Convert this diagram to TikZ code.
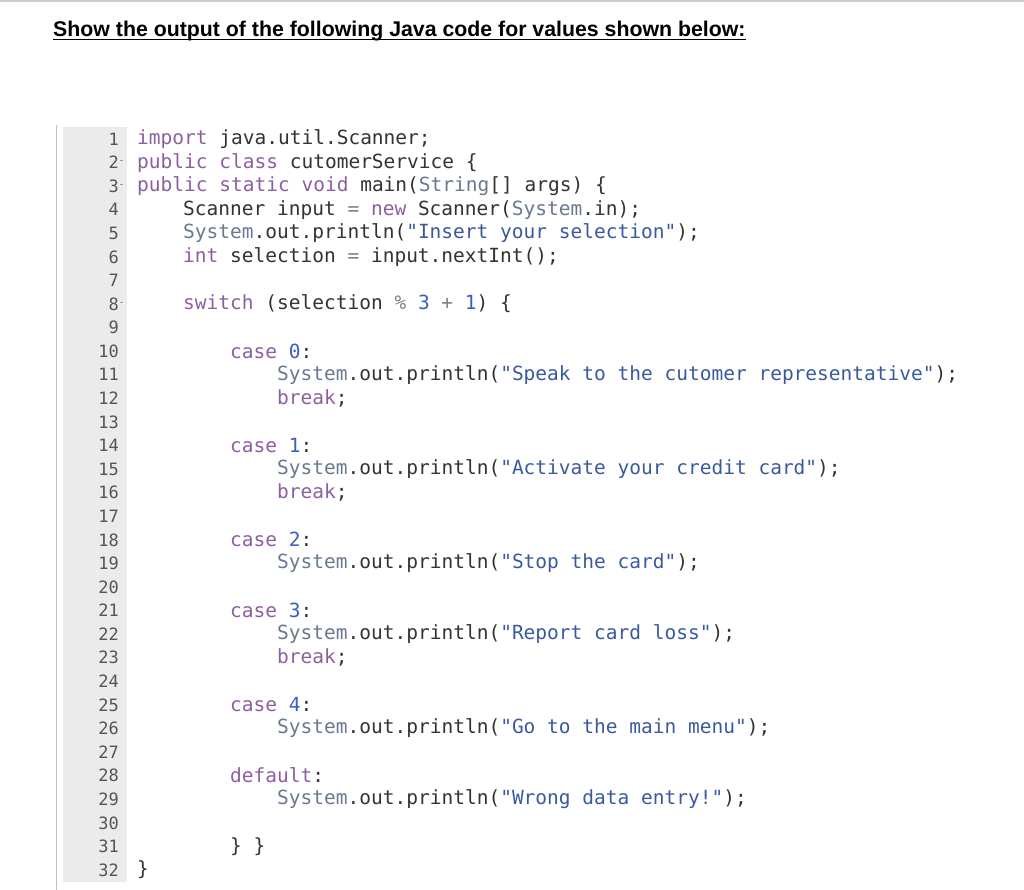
\documentclass[tikz,border=0pt]{standalone}
\usepackage{fontspec}
\setmainfont{Liberation Sans}
\newfontfamily\codefont{DejaVu Sans Mono}
\definecolor{kw}{HTML}{8E5FA0}
\definecolor{sys}{HTML}{6A7890}
\definecolor{str}{HTML}{3A5A9E}
\definecolor{num}{HTML}{3C5CC8}
\definecolor{txt}{HTML}{333333}
\definecolor{gut}{HTML}{EBEBEB}
\definecolor{lnum}{HTML}{555555}
\newcommand{\K}[1]{\textcolor{kw}{#1}}
\newcommand{\Sy}[1]{\textcolor{sys}{#1}}
\newcommand{\St}[1]{\textcolor{str}{#1}}
\newcommand{\N}[1]{\textcolor{num}{#1}}
\begin{document}
\begin{tikzpicture}[x=1pt,y=-1pt,
  code/.style={anchor=west,inner sep=0pt,font=\codefont\fontsize{19.5}{21}\selectfont,text=txt},
  lno/.style={anchor=east,inner sep=0pt,font=\codefont\fontsize{17}{18}\selectfont,text=lnum}]
\useasboundingbox (0,0) rectangle (1024,890);
\fill[white] (0,0) rectangle (1024,890);
\fill[gray!40] (0,0) rectangle (1024,2);
\fill[gut] (63,127) rectangle (127,882);
\draw[gray!50,line width=0.8pt] (56,125) -- (56,890);
\node[anchor=base west,inner sep=0pt,font=\bfseries\fontsize{21.3}{24}\selectfont] (title) at (53,37) {Show the output of the following Java code for values shown below:};
\draw[line width=1.3pt] ([yshift=-2.8pt]title.base west) -- ([yshift=-2.8pt]title.base east);
\foreach \i in {1,...,32}{
  \node[lno] (n\i) at (119,{139+(\i-1)*23.58}) {\i};
}
\foreach \i in {2,3,8}{
  \node[anchor=west,inner sep=0pt,font=\fontsize{9}{9}\selectfont,text=lnum] at (120,{139+(\i-1)*23.58}) {-};
}
\def\L#1{139+(#1-1)*23.58}
\node[code] (c1) at (137,{\L{1}}) {\K{import} java.util.Scanner;};
\node[code] (c2) at (137,{\L{2}}) {\K{public class} cutomerService \{};
\node[code] (c3) at (137,{\L{3}}) {\K{public static void} main(\Sy{String}[] args) \{};
\node[code] (c4) at (183,{\L{4}}) {Scanner input \textcolor{gray}{=} \K{new} Scanner(\Sy{System}.in);};
\node[code] (c5) at (183,{\L{5}}) {\Sy{System}.out.println(\St{"Insert your selection"});};
\node[code] (c6) at (183,{\L{6}}) {\K{int} selection \textcolor{gray}{=} input.nextInt();};
\node[code] (c8) at (183,{\L{8}}) {\K{switch} (selection \textcolor{gray}{\%} \N{3} \textcolor{gray}{+} \N{1}) \{};
\node[code] (c10) at (230,{\L{10}}) {\K{case} \N{0}:};
\node[code] (c11) at (277,{\L{11}}) {\Sy{System}.out.println(\St{"Speak to the cutomer representative"});};
\node[code] (c12) at (277,{\L{12}}) {\K{break};};
\node[code] (c14) at (230,{\L{14}}) {\K{case} \N{1}:};
\node[code] (c15) at (277,{\L{15}}) {\Sy{System}.out.println(\St{"Activate your credit card"});};
\node[code] (c16) at (277,{\L{16}}) {\K{break};};
\node[code] (c18) at (230,{\L{18}}) {\K{case} \N{2}:};
\node[code] (c19) at (277,{\L{19}}) {\Sy{System}.out.println(\St{"Stop the card"});};
\node[code] (c21) at (230,{\L{21}}) {\K{case} \N{3}:};
\node[code] (c22) at (277,{\L{22}}) {\Sy{System}.out.println(\St{"Report card loss"});};
\node[code] (c23) at (277,{\L{23}}) {\K{break};};
\node[code] (c25) at (230,{\L{25}}) {\K{case} \N{4}:};
\node[code] (c26) at (277,{\L{26}}) {\Sy{System}.out.println(\St{"Go to the main menu"});};
\node[code] (c28) at (230,{\L{28}}) {\K{default}:};
\node[code] (c29) at (277,{\L{29}}) {\Sy{System}.out.println(\St{"Wrong data entry!"});};
\node[code] (c31) at (230,{\L{31}}) {\} \}};
\node[code] (c32) at (137,{\L{32}}) {\}};
\end{tikzpicture}
\end{document}
